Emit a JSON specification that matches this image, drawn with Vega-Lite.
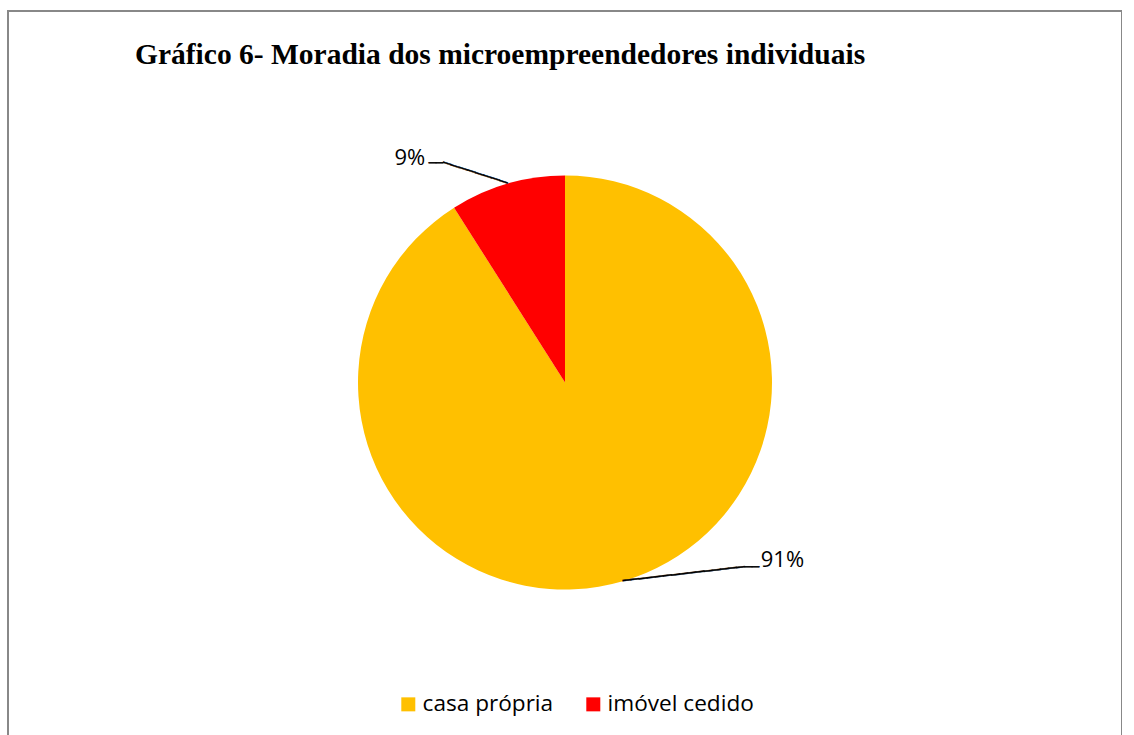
{
  "$schema": "https://vega.github.io/schema/vega-lite/v6.json",
  "width": 1114,
  "height": 743,
  "autosize": {"type": "none"},
  "padding": {"left": 8, "top": 11, "right": 0, "bottom": 0},
  "background": "white",
  "view": {"stroke": "#888888", "strokeWidth": 2},
  "config": {
    "view": {"stroke": "#888888", "strokeWidth": 2},
    "style": {"view": {"stroke": "#888888", "strokeWidth": 2}}
  },
  "title": {
    "text": "Gráfico 6- Moradia dos microempreendedores individuais",
    "anchor": "start",
    "frame": "group",
    "font": "Liberation Serif",
    "fontSize": 29.5,
    "fontWeight": "bold",
    "color": "#000000",
    "baseline": "alphabetic",
    "offset": 0,
    "dx": 127,
    "dy": 82
  },
  "data": {
    "values": [
      {"category": "casa própria", "value": 91, "label": "91%"},
      {"category": "imóvel cedido", "value": 9, "label": "9%"}
    ]
  },
  "encoding": {
    "theta": {"field": "value", "type": "quantitative", "stack": true},
    "order": {"field": "category", "sort": "ascending"}
  },
  "layer": [
    {
      "mark": {"type": "arc", "radius": 207},
      "encoding": {
        "color": {
          "field": "category",
          "type": "nominal",
          "scale": {"domain": ["casa própria", "imóvel cedido"], "range": ["#FFC000", "#FF0000"]},
          "legend": {
            "orient": "none",
            "legendX": 389,
            "legendY": 682,
            "direction": "horizontal",
            "title": null,
            "symbolType": "square",
            "symbolSize": 196,
            "symbolStrokeWidth": 0,
            "labelFont": "Open Sans",
            "labelFontSize": 22.6,
            "labelColor": "#000000",
            "labelOffset": 3,
            "columnPadding": 28,
            "padding": 0
          }
        }
      }
    },
    {
      "mark": {"type": "text", "radius": 207, "align": "right", "baseline": "alphabetic", "dx": -82, "dy": -19, "font": "Open Sans", "fontSize": 22, "fill": "#000000"},
      "encoding": {
        "text": {"condition": {"test": "datum.category === 'imóvel cedido'", "field": "label"}, "value": ""}
      }
    },
    {
      "mark": {"type": "text", "radius": 207, "align": "left", "baseline": "alphabetic", "dx": 138, "dy": -14, "font": "Open Sans", "fontSize": 22, "fill": "#000000"},
      "encoding": {
        "text": {"condition": {"test": "datum.category === 'casa própria'", "field": "label"}, "value": ""}
      }
    },
    {
      "mark": {"type": "text", "radius": 207, "align": "right", "baseline": "middle", "angle": 17.9, "font": "DejaVu Sans Mono", "fontSize": 14, "fill": "#000000", "stroke": "#000000", "strokeWidth": 0.5},
      "encoding": {
        "text": {"condition": {"test": "datum.category === 'imóvel cedido'", "value": "────────"}, "value": ""}
      }
    },
    {
      "mark": {"type": "text", "radius": 207, "align": "right", "baseline": "middle", "dx": -64, "dy": -21, "font": "DejaVu Sans Mono", "fontSize": 12, "fill": "#000000", "stroke": "#000000", "strokeWidth": 0.5},
      "encoding": {
        "text": {"condition": {"test": "datum.category === 'imóvel cedido'", "value": "──"}, "value": ""}
      }
    },
    {
      "mark": {"type": "text", "radius": 207, "align": "left", "baseline": "middle", "angle": -6.55, "font": "DejaVu Sans Mono", "fontSize": 13.6, "fill": "#000000", "stroke": "#000000", "strokeWidth": 0.5},
      "encoding": {
        "text": {"condition": {"test": "datum.category === 'casa própria'", "value": "───────────────"}, "value": ""}
      }
    },
    {
      "mark": {"type": "text", "radius": 207, "align": "left", "baseline": "middle", "dx": 122, "dy": -14, "font": "DejaVu Sans Mono", "fontSize": 12, "fill": "#000000", "stroke": "#000000", "strokeWidth": 0.5},
      "encoding": {
        "text": {"condition": {"test": "datum.category === 'casa própria'", "value": "──"}, "value": ""}
      }
    }
  ]
}
